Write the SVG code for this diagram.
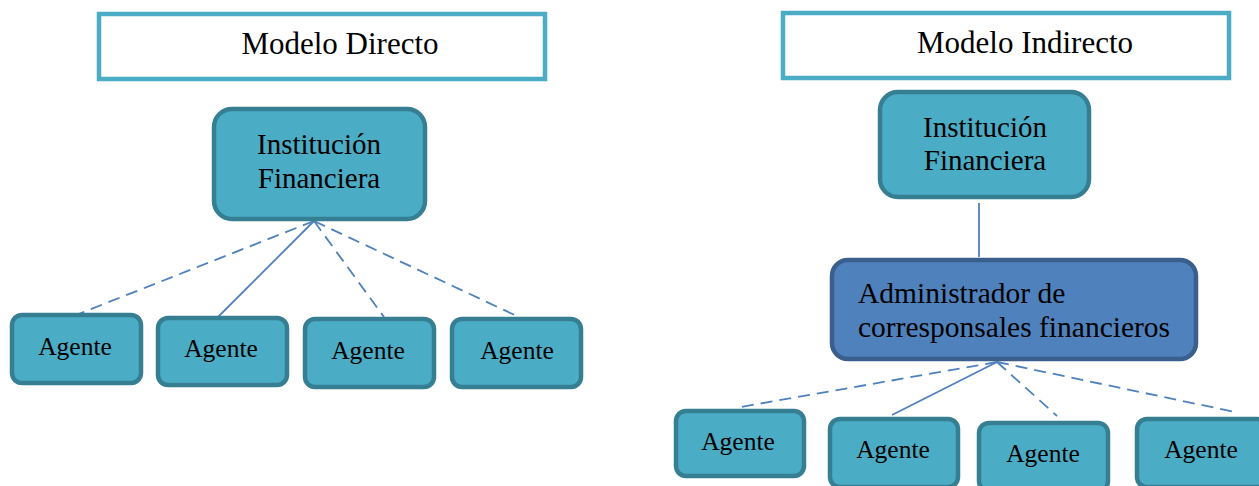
<svg xmlns="http://www.w3.org/2000/svg" width="1259" height="486" viewBox="0 0 1259 486">
  <style>
    .title { fill: #ffffff; stroke: #4bacc6; stroke-width: 4.5; }
    .teal { fill: #4bacc6; stroke: #367f92; stroke-width: 4.5; }
    .blue { fill: #4f81bd; stroke: #3a5f8c; stroke-width: 4.5; }
    text { font-family: "Liberation Serif", "Times New Roman", serif; fill: #000000; }
    .t32 { font-size: 31px; text-anchor: middle; }
    .t29 { font-size: 29px; text-anchor: middle; }
    .t26 { font-size: 25.5px; text-anchor: middle; }
    .adm { font-size: 29.5px; }
    .link { stroke: #4f81bd; stroke-width: 1.8; fill: none; }
    .dash { stroke-dasharray: 12 7; }
  </style>

  <rect width="1259" height="486" fill="#ffffff"/>

  <!-- connectors -->
  <g id="connectors">
    <line class="link dash" x1="314" y1="221" x2="76" y2="315"/>
    <line class="link" x1="314" y1="221" x2="217" y2="318"/>
    <line class="link dash" x1="314" y1="221" x2="384" y2="317"/>
    <line class="link dash" x1="314" y1="221" x2="521" y2="318"/>

    <line class="link" x1="979" y1="203" x2="979" y2="257"/>

    <line class="link dash" x1="997" y1="362" x2="735" y2="408"/>
    <line class="link" x1="997" y1="362" x2="892" y2="415"/>
    <line class="link dash" x1="997" y1="362" x2="1057" y2="416"/>
    <line class="link dash" x1="997" y1="362" x2="1235" y2="412"/>
  </g>

  <!-- direct model -->
  <g id="title-directo">
    <rect class="title" x="99" y="14" width="446" height="65"/>
    <text class="t32" x="340" y="54">Modelo Directo</text>
  </g>
  <g id="institucion-directo">
    <rect class="teal" x="214" y="109" width="211" height="110" rx="18"/>
    <text class="t29" x="319" y="154">Institución</text>
    <text class="t29" x="319" y="188">Financiera</text>
  </g>
  <g id="agente-d1">
    <rect class="teal" x="12" y="315" width="129" height="68" rx="10"/>
    <text class="t26" x="75" y="355">Agente</text>
  </g>
  <g id="agente-d2">
    <rect class="teal" x="158" y="318" width="129" height="67" rx="10"/>
    <text class="t26" x="221" y="357">Agente</text>
  </g>
  <g id="agente-d3">
    <rect class="teal" x="305" y="319" width="129" height="68" rx="10"/>
    <text class="t26" x="368" y="359">Agente</text>
  </g>
  <g id="agente-d4">
    <rect class="teal" x="452" y="319" width="129" height="68" rx="10"/>
    <text class="t26" x="517" y="359">Agente</text>
  </g>

  <!-- indirect model -->
  <g id="title-indirecto">
    <rect class="title" x="783" y="13" width="446" height="65"/>
    <text class="t32" x="1025" y="53">Modelo Indirecto</text>
  </g>
  <g id="institucion-indirecto">
    <rect class="teal" x="880" y="92" width="209" height="105" rx="18"/>
    <text class="t29" x="985" y="137">Institución</text>
    <text class="t29" x="985" y="170">Financiera</text>
  </g>
  <g id="administrador">
    <rect class="blue" x="832" y="260" width="364" height="99" rx="16"/>
    <text class="adm" x="858" y="303">Administrador de</text>
    <text class="adm" x="858" y="337">corresponsales financieros</text>
  </g>
  <g id="agente-i1">
    <rect class="teal" x="676" y="411" width="128" height="65" rx="10"/>
    <text class="t26" x="738" y="450">Agente</text>
  </g>
  <g id="agente-i2">
    <rect class="teal" x="830" y="419" width="128" height="68" rx="10"/>
    <text class="t26" x="893" y="458">Agente</text>
  </g>
  <g id="agente-i3">
    <rect class="teal" x="979" y="423" width="129" height="68" rx="10"/>
    <text class="t26" x="1043" y="462">Agente</text>
  </g>
  <g id="agente-i4">
    <rect class="teal" x="1137" y="419" width="130" height="68" rx="10"/>
    <text class="t26" x="1201" y="458">Agente</text>
  </g>
</svg>
